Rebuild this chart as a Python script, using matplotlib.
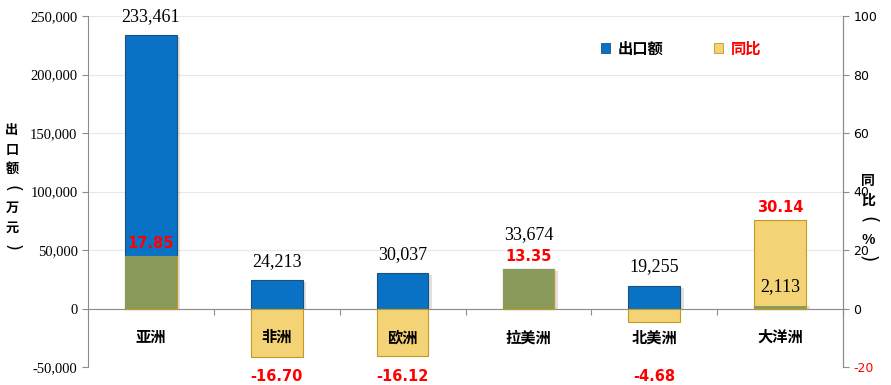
import matplotlib
matplotlib.use("Agg")
import matplotlib.pyplot as plt
from matplotlib.patches import Rectangle
import numpy as np

categories = ["亚洲", "非洲", "欧洲", "拉美洲", "北美洲", "大洋洲"]
exports = [233461, 24213, 30037, 33674, 19255, 2113]
yoy = [17.85, -16.70, -16.12, 13.35, -4.68, 30.14]
left_ticks = [-50000, 0, 50000, 100000, 150000, 200000, 250000]
right_ticks = [-20, 0, 20, 40, 60, 80, 100]

CJK = ["Noto Sans CJK SC", "DejaVu Sans"]
plt.rcParams['font.family'] = CJK

BLUE = "#0A72C4"
BLUE_EDGE = "#1D4F7C"
YEL = "#F3D375"
YEL_EDGE = "#C39A1E"
OLIVE = "#8A9A5B"
GRID = "#E8E8E8"
SPINE = "#8C8C8C"

fig = plt.figure(figsize=(8.91, 3.85), dpi=100)
ax = fig.add_axes([88/891, 18/385, (843-88)/891, (367-16)/385])
ax2 = ax.twinx()

x = np.arange(len(categories))
w = 0.41
scale = 2500.0  # left units per right unit

ax.set_xlim(-0.5, len(categories) - 0.5)
ax.set_ylim(-50000, 250000)
ax2.set_ylim(-20, 100)

# shadows + blue bars
for xi, v in zip(x, exports):
    ax.add_patch(Rectangle((xi - w/2 + 0.03, 0), w, v - 1500 if v > 3000 else v,
                           facecolor="#000000", alpha=0.12, edgecolor="none", zorder=1.5))
ax.bar(x, exports, width=w, color=BLUE, edgecolor=BLUE_EDGE, linewidth=0.8, zorder=2)

ax.set_yticks(left_ticks)
ax.set_yticklabels([f"{t:,}" for t in left_ticks], family="Liberation Serif", fontsize=10.5)
ax.yaxis.grid(True, color=GRID, linewidth=0.8, zorder=0)
ax.set_axisbelow(True)
ax.set_xticks(np.arange(len(categories) + 1) - 0.5)
ax.set_xticklabels([])
ax.tick_params(axis='x', length=4, color=SPINE, direction='out')
ax.tick_params(axis='y', length=4, color=SPINE)
ax.spines['bottom'].set_position(('data', 0))
ax.spines['bottom'].set_color(SPINE)
ax.spines['top'].set_visible(False)
ax.spines['left'].set_color(SPINE)
ax.spines['right'].set_color(SPINE)

# yellow bars (secondary axis)
ax2.bar(x, yoy, width=w, color=YEL, edgecolor=YEL_EDGE, linewidth=0.8, zorder=2)
overlap = [min(y, e / scale) if (y > 0 and e > 0) else 0 for y, e in zip(yoy, exports)]
ax2.bar(x, overlap, width=w, color=OLIVE, edgecolor="none", zorder=2.5)
ax2.set_yticks(right_ticks)
ax2.set_yticklabels([str(t) for t in right_ticks], family="DejaVu Sans", fontsize=9)
ax2.get_yticklabels()[0].set_color("red")
ax2.tick_params(axis='y', length=4, color=SPINE)
for s in ['top', 'bottom', 'left']:
    ax2.spines[s].set_visible(False)
ax2.spines['right'].set_color(SPINE)

# yoy labels
yoy_label_pos = []
for xi, y in zip(x, yoy):
    if y >= 0:
        yp = y + 4.5
        ax2.text(xi, yp, f"{y:.2f}", ha='center', va='center', family="DejaVu Sans",
                 fontsize=10.5, fontweight='bold', color='red', zorder=5)
    else:
        yp = -23.2
        ax2.text(xi, yp, f"{y:.2f}", ha='center', va='center', family="DejaVu Sans",
                 fontsize=10.5, fontweight='bold', color='red', zorder=5, clip_on=False)
    yoy_label_pos.append(yp)

# export value labels
for xi, v, yp in zip(x, exports, yoy_label_pos):
    ep = v / scale + 6.5
    if abs(ep - yp) < 6:
        ep = yp + 7.3
    ax2.text(xi, ep, f"{v:,}", ha='center', va='center',
             family="Liberation Serif", fontsize=13, color='black', zorder=5)

# category labels
for xi, c in zip(x, categories):
    ax2.text(xi, -9.8, c, ha='center', va='center', family=CJK, fontsize=11,
             fontweight='bold', color='black', zorder=5)

# axis titles (vertical stacked, brackets rotated)
def vtitle(chars, xpix, ystart, step, size):
    for i, ch in enumerate(chars):
        rot = 0
        fam = CJK
        fs = size
        if ch in "()":
            rot = -90
            fam = "DejaVu Sans"
            fs = size * 1.35
        fig.text(xpix/891, 1 - (ystart + i * step)/385, ch, ha='center', va='center',
                 family=fam, fontsize=fs, fontweight='normal' if ch in "()" else 'bold',
                 rotation=rot, rotation_mode='anchor')

vtitle(["出", "口", "额", "(", "万", "元", ")"], 12, 130, 19.5, 9.5)
vtitle(["同", "比", "(", "%", ")"], 868, 181, 19.5, 10)

# legend
fig.add_artist(Rectangle((601/891, 1 - 53/385), 9/891, 10/385, transform=fig.transFigure,
                         facecolor=BLUE, edgecolor=BLUE_EDGE, linewidth=0.6))
fig.text(618/891, 1 - 49/385, "出口额", ha='left', va='center', family=CJK,
         fontsize=11, fontweight='bold', color='black')
fig.add_artist(Rectangle((714/891, 1 - 53/385), 9/891, 10/385, transform=fig.transFigure,
                         facecolor=YEL, edgecolor=YEL_EDGE, linewidth=0.6))
fig.text(731/891, 1 - 49/385, "同比", ha='left', va='center', family=CJK,
         fontsize=11, fontweight='bold', color='red')

fig.savefig("out.png", dpi=100)
